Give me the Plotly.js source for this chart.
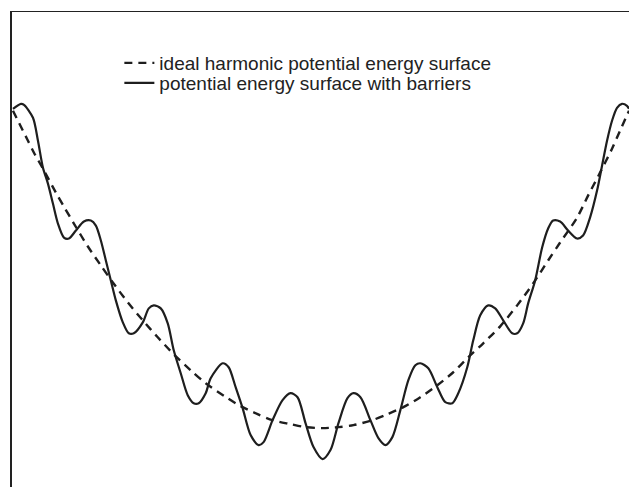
<!DOCTYPE html>
<html>
<head>
<meta charset="utf-8">
<script src="https://cdn.plot.ly/plotly-3.0.1.min.js"></script>
<style>html,body{margin:0;padding:0;background:#fff;}#chart{width:629px;height:487px;}</style>
</head>
<body>
<div id="chart"></div>
<script>
// Values (arbitrary units: position, energy)
const seriesNames = ["ideal harmonic potential energy surface", "potential energy surface with barriers"];

const harmonicX = [-310,-304,-295,-289,-280,-267,-259,-249,-235,-222,-210,-195,-180,-165,-149,-132,-117,-95,-82,-65,-50,-32,-17,0,16,31,50,65,81,98,115,131,146,161,178,195,211,226,238,255,266,278,290,298,307];
const harmonicE = [390,378,360,348,332,308,294,277,254,235,218,198,180,163,146,130,117,102,94,86,80,76,73,72,73,75,80,86,93,103,115,128,143,157,174,195,217,240,258,283,305,328,352,370,390];

const barrierX = [-310,-302,-299,-290,-285,-280,-275,-270,-265,-259,-254,-247,-239,-232,-227,-222,-217,-212,-207,-200,-194,-189,-180,-174,-169,-162,-155,-149,-142,-135,-129,-124,-117,-112,-100,-94,-87,-80,-72,-64,-59,-50,-40,-32,-25,-17,-9,0,8,16,25,31,38,48,56,63,70,78,86,93,98,106,115,123,130,136,145,151,158,166,173,181,190,195,201,206,213,220,226,231,238,246,255,261,268,275,280,285,290,295,300,305,307];
const barrierE = [392,397,396,383,360,333,317,297,277,263,262,270,279,280,275,260,240,220,200,178,167,167,178,192,195,192,177,150,127,105,97,97,107,122,137,133,113,92,65,55,58,80,100,107,103,77,53,41,50,77,102,107,103,80,62,55,63,90,120,135,137,132,113,98,97,107,133,160,185,195,192,180,167,167,177,197,220,253,272,280,279,270,262,265,283,310,335,360,380,393,397,395,392];

const legendFont = {family: "Liberation Sans, Arial, Helvetica, sans-serif", size: 19, color: "#222"};

const data = [
  {
    x: harmonicX, y: harmonicE, name: seriesNames[0], legend: "legend",
    type: "scatter", mode: "lines",
    line: {color: "#1e1e1e", width: 2.4, dash: "8px,6px", shape: "spline", smoothing: 0.8}
  },
  {
    x: barrierX, y: barrierE, name: seriesNames[1], legend: "legend2",
    type: "scatter", mode: "lines",
    line: {color: "#1e1e1e", width: 2.2, shape: "spline", smoothing: 0.8}
  }
];

const layout = {
  width: 629, height: 487,
  margin: {l: 12, r: 0, t: 12, b: 0, pad: 0},
  paper_bgcolor: "#ffffff", plot_bgcolor: "#ffffff",
  font: {family: "Liberation Sans, Arial, Helvetica, sans-serif", size: 17, color: "#222"},
  showlegend: true,
  legend: {
    x: 0.174, y: 0.9326, xanchor: "left", yanchor: "top",
    bgcolor: "rgba(0,0,0,0)", borderwidth: 0, font: legendFont, itemwidth: 30
  },
  legend2: {
    x: 0.174, y: 0.8905, xanchor: "left", yanchor: "top",
    bgcolor: "rgba(0,0,0,0)", borderwidth: 0, font: legendFont, itemwidth: 30
  },
  xaxis: {
    range: [-311, 307], side: "top", showline: true, linecolor: "#222", linewidth: 1.5,
    showgrid: false, zeroline: false, showticklabels: false, ticks: "", fixedrange: true
  },
  yaxis: {
    range: [13, 489], showline: true, linecolor: "#222", linewidth: 2,
    showgrid: false, zeroline: false, showticklabels: false, ticks: "", fixedrange: true
  }
};

Plotly.newPlot("chart", data, layout, {displayModeBar: false, staticPlot: true});
</script>
</body>
</html>
